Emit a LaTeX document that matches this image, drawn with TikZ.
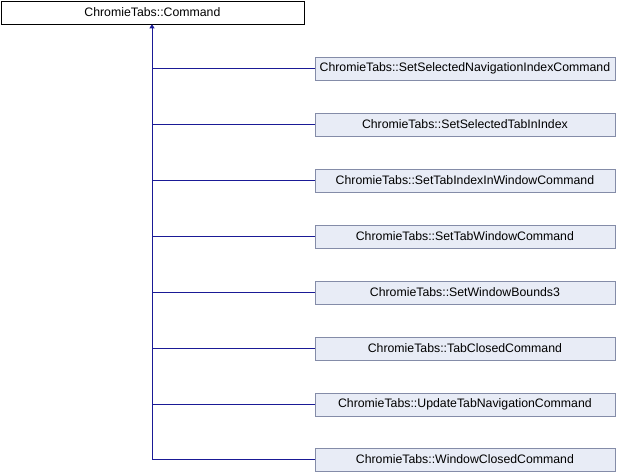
\documentclass[tikz,border=0pt]{standalone}
\usepackage{fontspec}
\setmainfont{Liberation Sans}
\usetikzlibrary{arrows.meta}
\definecolor{boxfill}{HTML}{E8ECF6}
\definecolor{boxdraw}{HTML}{848CA8}
\definecolor{edgecol}{HTML}{1A1A96}
\begin{document}
\begin{tikzpicture}[x=1pt,y=-1pt,
  cls/.style={draw=boxdraw,fill=boxfill,line width=0.8pt,minimum width=300pt,minimum height=23pt,inner sep=0pt,font=\fontsize{12.3}{14}\selectfont,anchor=west},
  base/.style={draw=black,fill=white,line width=0.8pt,minimum width=303pt,minimum height=23pt,inner sep=0pt,font=\fontsize{12.3}{14}\selectfont,anchor=north west},
  inh/.style={draw=edgecol,line width=0.9pt}]
\useasboundingbox (0,0) rectangle (618,472);
\node[base] (cmd) at (0.5,0.5) {ChromieTabs::Command};
\node[cls] (c1) at (314.5,68.5) {ChromieTabs::SetSelectedNavigationIndexCommand};
\node[cls] (c2) at (314.5,124.5) {ChromieTabs::SetSelectedTabInIndex};
\node[cls] (c3) at (314.5,180.5) {ChromieTabs::SetTabIndexInWindowCommand};
\node[cls] (c4) at (314.5,236.5) {ChromieTabs::SetTabWindowCommand};
\node[cls] (c5) at (314.5,292.5) {ChromieTabs::SetWindowBounds3};
\node[cls] (c6) at (314.5,348.5) {ChromieTabs::TabClosedCommand};
\node[cls] (c7) at (314.5,404.5) {ChromieTabs::UpdateTabNavigationCommand};
\node[cls] (c8) at (314.5,459.5) {ChromieTabs::WindowClosedCommand};
\coordinate (trunk) at (152,0);
\draw[inh,-{Triangle[length=4pt,width=5pt]}] (c8.west) -| (cmd.south -| trunk);
\foreach \i in {1,...,7}{\draw[inh] (c\i.west) -- (c\i.west -| trunk);}
\end{tikzpicture}
\end{document}
